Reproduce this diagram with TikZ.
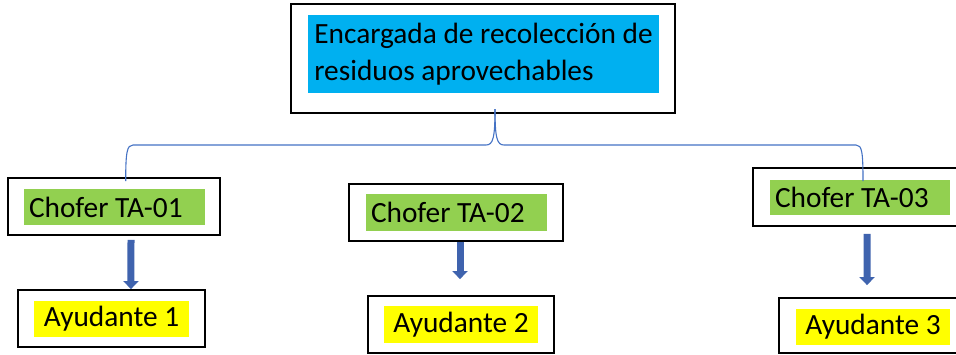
\documentclass[tikz,border=0pt]{standalone}
\usepackage{fontspec}
\setmainfont{Carlito}
\usetikzlibrary{arrows.meta}
\newdimen\px \px=0.75pt
\definecolor{boxblue}{HTML}{00B0F0}
\definecolor{boxgreen}{HTML}{92D050}
\definecolor{boxyellow}{HTML}{FFFF00}
\definecolor{linkblue}{HTML}{4472C4}
\definecolor{arrowblue}{HTML}{3F63AE}
\begin{document}
\begin{tikzpicture}[x=1\px, y=-1\px,
    frame/.style={draw, line width=1.8\px, inner sep=0pt},
    tag/.style={inner ysep=0pt, align=flush left, font=\fontsize{22}{27.5}\selectfont},
    link/.style={draw=linkblue, line width=1.1\px},
    down/.style={-{Triangle[length=6pt,width=11.25pt]}, line width=5.25pt, draw=arrowblue}]
    \clip (0,0) rectangle (956,354);

    % jefa
    \node[frame, minimum width=384\px, minimum height=109\px] (boss) at (483,58.5) {};
    \node[tag, fill=boxblue, minimum width=351\px, minimum height=78\px] (bosstxt) at (483.5,54)
        {\raisebox{-2\px}{Encargada de recolección de}\\\raisebox{-2\px}{residuos aprovechables}};

    % choferes
    \node[frame, minimum width=212\px, minimum height=57\px] (ch1) at (114,206.5) {};
    \node[tag, fill=boxgreen, minimum width=181\px, minimum height=36\px, text width=171\px, inner xsep=5\px] (ch1txt) at (114.5,207) {Chofer TA-01};
    \node[frame, minimum width=214\px, minimum height=57\px] (ch2) at (456,212.5) {};
    \node[tag, fill=boxgreen, minimum width=181\px, minimum height=37\px, text width=171\px, inner xsep=5\px] (ch2txt) at (456.5,212.5) {Chofer TA-02};
    \node[frame, minimum width=212\px, minimum height=58\px] (ch3) at (859,197) {};
    \node[tag, fill=boxgreen, minimum width=180\px, minimum height=35\px, text width=170\px, inner xsep=5\px] (ch3txt) at (860,197.5) {Chofer TA-03};

    % ayudantes
    \node[frame, minimum width=187\px, minimum height=57\px] (ay1) at (111.5,318.5) {};
    \node[tag, fill=boxyellow, minimum width=155\px, minimum height=36\px] (ay1txt) at (111.5,319) {Ayudante 1};
    \node[frame, minimum width=186\px, minimum height=57\px] (ay2) at (461,324.5) {};
    \node[tag, fill=boxyellow, minimum width=154\px, minimum height=37\px] (ay2txt) at (461,324.5) {Ayudante 2};
    \node[frame, minimum width=187\px, minimum height=55\px] (ay3) at (872.5,325.5) {};
    \node[tag, fill=boxyellow, minimum width=154\px, minimum height=36\px] (ay3txt) at (873,327) {Ayudante 3};

    % llave
    \coordinate (peak) at (495,109);
    \coordinate (end1) at (125.7,181);
    \coordinate (end3) at (863,181);
    \draw[link] (peak) .. controls (495,138) and (493,145) .. (486,145) -- (133,145)
        .. controls (127,145) and (125.7,152) .. (end1);
    \draw[link] (peak) .. controls (495,138) and (497,145) .. (504,145) -- (856,145)
        .. controls (862,145) and (863,152) .. (end3);

    % flechas
    \draw[down] ([xshift=12.75pt,yshift=-3pt]ch1.south) -- ([xshift=14.6pt]ay1.north);
    \draw[down] ([xshift=3pt]ch2.south) -- ([xshift=-0.75pt,yshift=12pt]ay2.north);
    \draw[down] ([xshift=6pt,yshift=-5.25pt]ch3.south) -- ([xshift=-4.1pt,yshift=9pt]ay3.north);
\end{tikzpicture}
\end{document}
